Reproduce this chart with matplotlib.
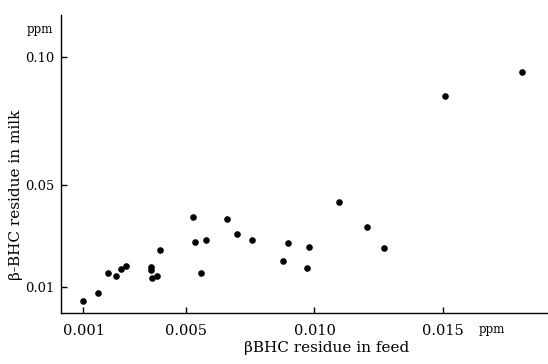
import matplotlib.pyplot as plt

# beta-BHC residue in feed (ppm) vs residue in milk (ppm)
feed = [0.00097, 0.00157, 0.00196, 0.00227, 0.00246, 0.00267, 0.00364, 0.00364,
        0.00366, 0.00388, 0.00398, 0.00527, 0.00536, 0.00578, 0.00556, 0.00659,
        0.00697, 0.00758, 0.00879, 0.00897, 0.00980, 0.00969, 0.01096, 0.01206,
        0.01271, 0.01509, 0.01809]
milk = [0.0048, 0.0079, 0.0156, 0.0143, 0.0172, 0.0185, 0.0179, 0.0168,
        0.0137, 0.0146, 0.0246, 0.0375, 0.0276, 0.0285, 0.0156, 0.0366,
        0.0307, 0.0286, 0.0204, 0.0275, 0.0257, 0.0176, 0.0435, 0.0337,
        0.0255, 0.0849, 0.0943]

x_ticks = [0.001, 0.005, 0.010, 0.015]
x_labels = ['0.001', '0.005', '0.010', '0.015']
y_ticks = [0.01, 0.05, 0.10]
y_labels = ['0.01', '0.05', '0.10']

plt.rcParams['font.family'] = ['DejaVu Serif']

fig = plt.figure(figsize=(5.48, 3.64), dpi=100)
ax = fig.add_axes([0.111, 0.140, 0.889, 0.819])

ax.scatter(feed, milk, s=14, color='black', zorder=3)

ax.set_xlim(0.000117, 0.0191)
ax.set_ylim(0.0, 0.1164)

ax.set_xticks(x_ticks)
ax.set_xticklabels(x_labels)
ax.set_yticks(y_ticks)
ax.set_yticklabels(y_labels)
ax.tick_params(direction='in', length=4, width=1)
ax.tick_params(axis='x', pad=8, labelsize=10.5)
ax.tick_params(axis='y', pad=5, labelsize=9.4)

for side in ['top', 'right']:
    ax.spines[side].set_visible(False)
for side in ['left', 'bottom']:
    ax.spines[side].set_linewidth(1.0)

ax.set_xlabel('βBHC residue in feed', fontsize=11)
ax.xaxis.set_label_coords(0.546, -0.094)
ax.set_ylabel('β-BHC residue in milk', fontsize=11)
ax.yaxis.set_label_coords(-0.077, 0.396)

# unit labels at the axis ends
ax.text(-0.016, 0.950, 'ppm', transform=ax.transAxes, fontsize=8.5,
        ha='right', va='center')
ax.text(0.885, -0.054, 'ppm', transform=ax.transAxes, fontsize=8.5,
        ha='center', va='center')

fig.savefig('out.png', dpi=100)
